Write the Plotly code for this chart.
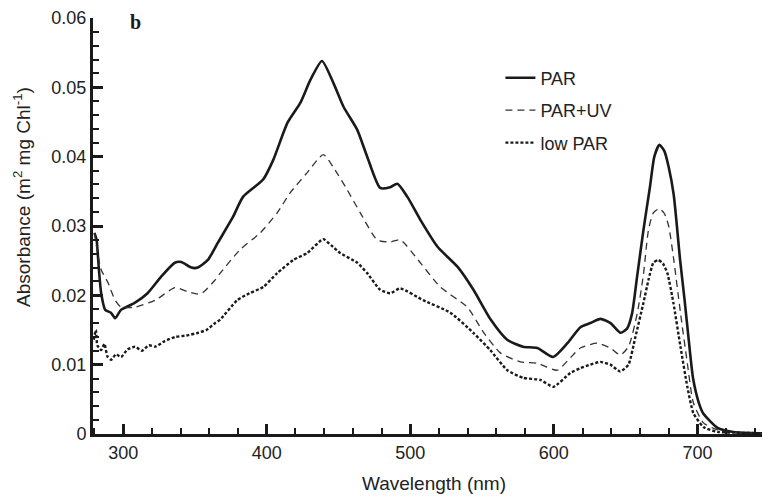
import plotly.graph_objects as go

# ---- data ----
par_nm = [280, 281.5, 283, 284.7, 287.5, 291.5, 294.5, 298.5, 308, 317, 326.5, 336, 340.5, 347.5,
          352, 359, 366, 376.5, 383.5, 397.5, 404.5, 414.5, 423.5, 430.5, 438.5, 446.5, 453.5, 463,
          470, 479, 486, 491, 498, 507, 519, 533, 544, 556, 567.5, 578.5, 588.5, 599.5, 609.5,
          618.5, 625.5, 632.5, 639.5, 646.5, 651, 654.5, 658, 662.4, 667, 670, 673.5, 677, 680,
          683.5, 688, 691, 694, 697, 701, 704, 714, 725, 746]
par_val = [0.0290, 0.0280, 0.0240, 0.0203, 0.0179, 0.0175, 0.0167, 0.0179, 0.0189, 0.0203, 0.0227,
           0.0247, 0.0248, 0.0240, 0.0240, 0.0251, 0.0276, 0.0313, 0.0342, 0.0367, 0.0395, 0.0449,
           0.0478, 0.0511, 0.0538, 0.0506, 0.0472, 0.0439, 0.0400, 0.0355, 0.0356, 0.0361, 0.0342,
           0.0309, 0.0270, 0.0241, 0.0208, 0.0165, 0.0136, 0.0126, 0.0124, 0.0111, 0.0131, 0.0154,
           0.0160, 0.0166, 0.0160, 0.0146, 0.0152, 0.0174, 0.0227, 0.0294, 0.0357, 0.0400, 0.0417,
           0.0408, 0.0385, 0.0345, 0.0250, 0.0195, 0.0135, 0.0080, 0.0045, 0.0030, 0.0009, 0.0003, 0.0001]

uv_nm = [280, 281, 284.7, 289.5, 294.4, 298.6, 308.4, 322.3, 336.2, 345.3, 354, 364, 367.6, 381.5,
         395.5, 407.3, 416.4, 428.2, 439.4, 446.3, 456.1, 465.2, 477, 486, 493, 507, 520.9, 539.7,
         550.9, 562.7, 576.7, 588.5, 602.4, 611.5, 618.5, 630.3, 639.4, 646.3, 652, 658.2, 662.4,
         665.9, 669.3, 673.5, 677, 680, 683.3, 688.2, 693, 697.2, 704.2, 714, 725, 746]
uv_val = [0.0290, 0.0276, 0.0237, 0.0218, 0.0193, 0.0183, 0.0183, 0.0193, 0.0211, 0.0205, 0.0202,
          0.0222, 0.0232, 0.0266, 0.0290, 0.0319, 0.0348, 0.0377, 0.0403, 0.0385, 0.0352, 0.0319,
          0.0280, 0.0277, 0.0280, 0.0247, 0.0212, 0.0183, 0.0147, 0.0117, 0.0104, 0.0102, 0.0092,
          0.0110, 0.0124, 0.0131, 0.0124, 0.0114, 0.0126, 0.0175, 0.0230, 0.0294, 0.0319, 0.0325,
          0.0318, 0.0300, 0.0255, 0.0175, 0.0102, 0.0045, 0.0016, 0.0006, 0.0002, 0.0001]

low_nm = [279.5, 281, 282, 284.7, 287, 289, 291.6, 295, 298.6, 303, 308.4, 313, 318, 322.3, 329,
          336.2, 344, 352.3, 358, 364.1, 367.6, 379.4, 388, 397.6, 407.3, 418.5, 428.2, 439.4, 445,
          451.2, 463.1, 470, 479, 486, 493, 509, 527.9, 543.9, 555.7, 567.6, 578.7, 590.6, 599.7,
          611.5, 618.5, 625.4, 632.4, 639.4, 646.3, 652, 656.8, 662.4, 665.9, 669.3, 672.8, 676,
          679.1, 683.3, 688.2, 693, 697.2, 704.2, 714, 725, 746]
low_val = [0.0136, 0.0150, 0.0128, 0.0121, 0.0130, 0.0112, 0.0107, 0.0115, 0.0111, 0.0122, 0.0126,
           0.0120, 0.0128, 0.0126, 0.0134, 0.0140, 0.0142, 0.0146, 0.0150, 0.0160, 0.0165, 0.0193,
           0.0203, 0.0212, 0.0232, 0.0251, 0.0261, 0.0281, 0.0272, 0.0261, 0.0247, 0.0232, 0.0208,
           0.0203, 0.0210, 0.0193, 0.0175, 0.0146, 0.0121, 0.0092, 0.0081, 0.0078, 0.0068, 0.0088,
           0.0095, 0.0100, 0.0104, 0.0100, 0.0090, 0.0100, 0.0140, 0.0189, 0.0222, 0.0247, 0.0251,
           0.0246, 0.0232, 0.0189, 0.0126, 0.0068, 0.0030, 0.0010, 0.0003, 0.0002, 0.0001]

x_ticks = [300, 400, 500, 600, 700]
y_ticks = [0, 0.01, 0.02, 0.03, 0.04, 0.05, 0.06]
y_tick_text = ["0", "0.01", "0.02", "0.03", "0.04", "0.05", "0.06"]

INK = "#1a1a1a"
TXT = "#222222"
FONT = "Liberation Sans, Arial, Helvetica, sans-serif"

fig = go.Figure()
fig.add_trace(go.Scatter(x=par_nm, y=par_val, mode="lines", name="PAR", legendgroup="a",
                         line=dict(color=INK, width=2.6, shape="spline", smoothing=0.6)))
fig.add_trace(go.Scatter(x=uv_nm, y=uv_val, mode="lines", name="PAR+UV", legendgroup="b",
                         line=dict(color="#333333", width=1.3, dash="7px,5px", shape="spline", smoothing=0.6)))
fig.add_trace(go.Scatter(x=low_nm, y=low_val, mode="lines", name="low PAR", legendgroup="c",
                         line=dict(color=INK, width=2.4, dash="3px,2px", shape="spline", smoothing=0.5)))

axis_common = dict(
    showgrid=False, zeroline=False, showline=True, linewidth=3, linecolor=INK,
    ticks="inside", ticklen=10, tickwidth=2.5, tickcolor=INK,
    tickfont=dict(family=FONT, size=18, color=TXT),
)

fig.update_xaxes(
    **axis_common, range=[279, 745], tickvals=x_ticks,
    minor=dict(ticks="inside", ticklen=6, tickwidth=2, tickcolor=INK, dtick=20, tick0=0),
)
fig.update_yaxes(
    **axis_common, range=[0, 0.06], tickvals=y_ticks, ticktext=y_tick_text,
    minor=dict(ticks="inside", ticklen=6, tickwidth=2, tickcolor=INK, dtick=0.002, tick0=0),
)

# axis titles as annotations (positioned as in the reference)
fig.add_annotation(text="Wavelength (nm)", xref="paper", yref="paper",
                   x=0.51, y=-0.12, xanchor="center", yanchor="middle",
                   showarrow=False, font=dict(family=FONT, size=19, color=TXT))
fig.add_annotation(text="Absorbance (m<sup>2</sup> mg Chl<sup>-1</sup>)", xref="paper", yref="paper",
                   x=-0.106, y=0.57, xanchor="center", yanchor="middle", textangle=-90,
                   showarrow=False, font=dict(family=FONT, size=19, color=TXT))

fig.add_annotation(text="<b>b</b>", xref="paper", yref="paper", x=0.063, y=0.99,
                   xanchor="center", yanchor="middle", showarrow=False,
                   font=dict(family="Liberation Serif, Times New Roman, serif", size=20, color=INK))

fig.update_layout(
    width=763, height=498,
    margin=dict(l=93, r=1, t=18, b=64),
    paper_bgcolor="white", plot_bgcolor="white",
    font=dict(family=FONT, size=18, color=TXT),
    showlegend=True,
    legend=dict(x=0.609, y=0.9, xanchor="left", yanchor="top", bgcolor="rgba(0,0,0,0)",
                traceorder="grouped", tracegroupgap=6,
                font=dict(family=FONT, size=18, color=TXT)),
)

fig.write_html("out.html")
